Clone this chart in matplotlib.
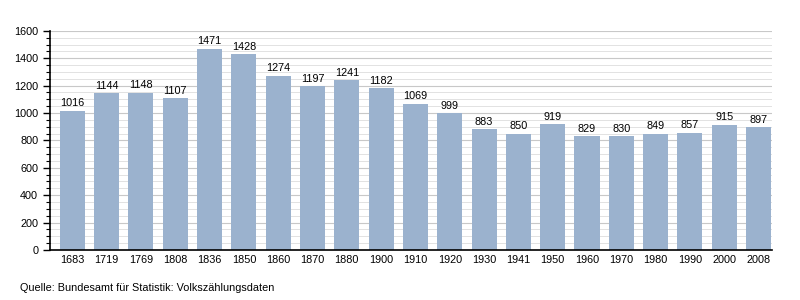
import matplotlib
matplotlib.use("Agg")
import matplotlib.pyplot as plt
from matplotlib.ticker import MultipleLocator

years = ["1683", "1719", "1769", "1808", "1836", "1850", "1860", "1870", "1880",
         "1900", "1910", "1920", "1930", "1941", "1950", "1960", "1970", "1980",
         "1990", "2000", "2008"]
population = [1016, 1144, 1148, 1107, 1471, 1428, 1274, 1197, 1241, 1182, 1069,
              999, 883, 850, 919, 829, 830, 849, 857, 915, 897]

plt.rcParams["font.family"] = ["Liberation Sans", "DejaVu Sans"]

fig = plt.figure(figsize=(8, 3), dpi=100)
ax = fig.add_axes([0.0625, 0.167, 0.902, 0.73])

x = range(len(years))
ax.bar(x, population, width=0.73, color="#9bb2ce", zorder=2)
for xi, v in zip(x, population):
    ax.text(xi, v + 18, str(v), ha="center", va="bottom", fontsize=7.8)

ax.set_xlim(-0.65, len(years) - 0.62)
ax.set_ylim(0, 1600)
ax.set_xticks(list(x))
ax.set_xticklabels(years, fontsize=7.8)
ax.tick_params(axis="x", length=0, pad=4)
ax.yaxis.set_major_locator(MultipleLocator(200))
ax.yaxis.set_minor_locator(MultipleLocator(50))
ax.tick_params(axis="y", which="major", labelsize=7.8, length=5, width=1)
ax.tick_params(axis="y", which="minor", length=3, width=0.8)
ax.grid(axis="y", which="major", color="#c8c8c8", lw=0.8, zorder=0)
ax.grid(axis="y", which="minor", color="#dddddd", lw=0.6, zorder=0)
for side in ("top", "right"):
    ax.spines[side].set_visible(False)
ax.spines["left"].set_linewidth(1.2)
ax.spines["bottom"].set_linewidth(1.2)

fig.text(0.025, 0.03, "Quelle: Bundesamt für Statistik: Volkszählungsdaten", fontsize=7.8)

fig.savefig("out.png", dpi=100)
